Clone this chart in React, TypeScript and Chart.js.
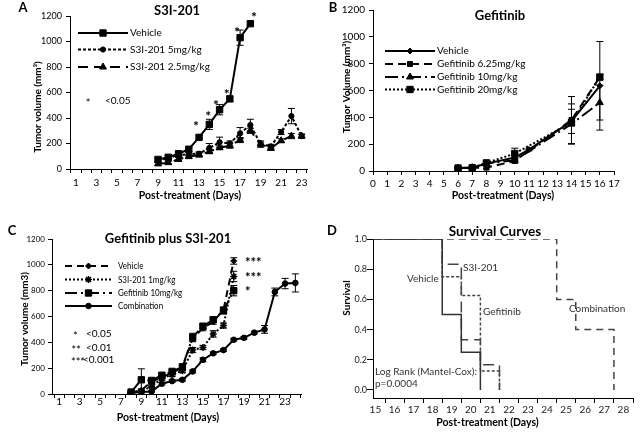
import React, { useEffect, useRef } from 'react';
import { Chart, registerables } from 'chart.js';

Chart.register(...registerables);

const FONT = 'Lato, "Open Sans", "DejaVu Sans", sans-serif';
const PW = 320;
const PH = 216;

// ===== Panel A: S3I-201 =====
const A_VEH_DAYS = [9, 10, 11, 12, 13, 14, 15, 16, 17, 18];
const A_VEH = [75, 92, 120, 155, 248, 350, 465, 550, 1030, 1140];
const A_VEH_ERR = [15, 15, 15, 15, 15, 40, 40, 20, 60, 15];
const A_S5_DAYS = [9, 10, 11, 12, 13, 14, 15, 16, 17, 18, 19, 20, 21, 22, 23];
const A_S5 = [70, 85, 110, 117, 120, 165, 210, 200, 280, 345, 195, 178, 290, 415, 258];
const A_S5_ERR = [15, 15, 15, 15, 15, 35, 40, 20, 45, 45, 25, 15, 20, 60, 15];
const A_S25_DAYS = [9, 10, 11, 12, 13, 14, 15, 16, 17, 18, 19, 20, 21, 22, 23];
const A_S25 = [40, 50, 76, 97, 110, 136, 167, 183, 227, 300, 196, 162, 222, 258, 258];
const A_S25_ERR = [10, 10, 15, 10, 15, 15, 15, 20, 20, 20, 15, 15, 15, 20, 15];
const A_SIG_DAYS = [12.7, 13.9, 14.65, 15.7, 16.7, 18.35];
const A_SIG_VALUES = [357, 441, 527, 611, 1100, 1218];
const A_X_LABELS = [1, 3, 5, 7, 9, 11, 13, 15, 17, 19, 21, 23];
const A_Y_TICKS = [0, 200, 400, 600, 800, 1000, 1200];

// ===== Panel B: Gefitinib =====
const B_VEH_DAYS = [6, 7, 8, 10, 11, 14, 16];
const B_VEH = [22, 25, 55, 100, 160, 370, 635];
const B_VEH_ERR = [5, 5, 15, 20, 10, 90, 330];
const B_G6_DAYS = [6, 7, 8, 10, 14, 16];
const B_G6 = [22, 25, 25, 75, 380, 700];
const B_G6_ERR = [5, 5, 10, 15, 175, 20];
const B_G10_DAYS = [6, 7, 8, 10, 14, 16];
const B_G10 = [22, 25, 55, 80, 350, 510];
const B_G10_ERR = [5, 5, 15, 15, 150, 130];
const B_G20_DAYS = [6, 7, 8, 10, 14, 16];
const B_G20 = [22, 25, 60, 130, 360, 700];
const B_G20_ERR = [5, 5, 20, 40, 20, 20];
const B_X_LABELS = [0, 1, 2, 3, 4, 5, 6, 7, 8, 9, 10, 11, 12, 13, 14, 15, 16, 17];
const B_Y_TICKS = [0, 200, 400, 600, 800, 1000, 1200];

// ===== Panel C: Gefitinib plus S3I-201 =====
const C_VEH_DAYS = [8, 9, 10, 11, 12, 13, 14, 15, 16, 17, 18];
const C_VEH = [10, 30, 95, 130, 165, 205, 430, 510, 560, 650, 1030];
const C_VEH_ERR = [5, 10, 15, 15, 15, 20, 25, 20, 20, 25, 25];
const C_S3I_DAYS = [8, 9, 10, 11, 12, 13, 14, 15, 16, 17, 18];
const C_S3I = [10, 20, 60, 120, 150, 180, 340, 360, 465, 530, 910];
const C_S3I_ERR = [5, 10, 10, 15, 15, 15, 20, 15, 25, 20, 40];
const C_GEF_DAYS = [8, 9, 10, 11, 12, 13, 14, 15, 16, 17, 18];
const C_GEF = [15, 110, 105, 145, 175, 210, 440, 525, 575, 645, 800];
const C_GEF_ERR = [5, 85, 15, 20, 15, 20, 30, 20, 20, 25, 40];
const C_COMB_DAYS = [8, 9, 10, 11, 12, 13, 14, 15, 16, 17, 18, 19, 20, 21, 22, 23, 24];
const C_COMB = [10, 15, 20, 80, 100, 110, 175, 265, 315, 340, 420, 435, 475, 500, 790, 855, 860];
const C_COMB_ERR = [5, 5, 5, 10, 10, 10, 10, 15, 10, 10, 10, 10, 10, 30, 30, 40, 70];
const C_SIG_DAYS = [19.1, 19.1, 19.1];
const C_SIG_VALUES = [1043, 927, 815];
const C_SIG_TEXT = ['***', '***', '*'];
const C_X_LABELS = [1, 3, 5, 7, 9, 11, 13, 15, 17, 19, 21, 23];
const C_Y_TICKS = [0, 200, 400, 600, 800, 1000, 1200];

// ===== Panel D: Survival curves =====
const D_VEH_DAYS = [0, 18, 19, 20];
const D_VEH = [1, 0.5, 0.25, 0];
const D_S3I_DAYS = [0, 18, 19, 20, 21];
const D_S3I = [1, 0.833, 0.333, 0.167, 0];
const D_GEF_DAYS = [0, 18, 19, 20, 21];
const D_GEF = [1, 0.75, 0.625, 0.125, 0];
const D_COMB_DAYS = [0, 24, 25, 27];
const D_COMB = [1, 0.6, 0.4, 0];
const D_X_LABELS = [15, 16, 17, 18, 19, 20, 21, 22, 23, 24, 25, 26, 27, 28];
const D_Y_TICKS = [0, 0.2, 0.4, 0.6, 0.8, 1.0];

// ---------- helpers ----------
type Area = { left: number; right: number; top: number; bottom: number };
type TextSpec = {
  text: string; x: number; y: number; size: number; bold?: boolean;
  align?: CanvasTextAlign; rot?: number; sx?: number; color?: string; star?: boolean;
};
type MarkSpec = { x: number; y: number; text: string; size: number; bold?: boolean; align?: CanvasTextAlign };
type LegendSpec = { x1: number; x2: number; textX: number; rows: number[]; size: number; sx?: number };
type Deco = { texts: TextSpec[]; marks?: MarkSpec[]; legend?: LegendSpec; cap?: number };
type AxisSpec = {
  min: number; max: number; ticks: number[]; label: (v: number) => string;
  fontSize: number; bold?: boolean; pad: number; tickLen: number;
  tickColor?: (v: number) => string; labelOffset?: number; color?: string;
};

function pts(days: number[], vals: number[]) {
  return days.map((d, i) => ({ x: d, y: vals[i] }));
}

function series(label: string, days: number[], vals: number[], errs: number[] | null, st: any) {
  return {
    label,
    data: pts(days, vals),
    errors: errs,
    borderColor: st.color ?? '#000',
    backgroundColor: st.color ?? '#000',
    borderWidth: st.width ?? 2,
    borderDash: st.dash ?? [],
    pointStyle: st.marker ?? 'circle',
    pointRadius: st.r ?? 0,
    pointBackgroundColor: st.color ?? '#000',
    pointBorderColor: st.color ?? '#000',
    pointBorderWidth: st.pbw ?? 1,
    fill: false,
    tension: 0,
    stepped: st.stepped ?? false,
    legendR: st.lr ?? st.r ?? 0,
  };
}

function drawText(ctx: CanvasRenderingContext2D, t: TextSpec) {
  ctx.save();
  ctx.font = `${t.bold ? 'bold ' : ''}${t.size}px ${FONT}`;
  ctx.fillStyle = t.color ?? '#000';
  ctx.textAlign = t.align ?? 'center';
  ctx.textBaseline = 'middle';
  ctx.translate(t.x, t.y + (t.star ? t.size * 0.25 : 0));
  if (t.rot) ctx.rotate(t.rot);
  if (t.sx) ctx.scale(t.sx, 1);
  ctx.fillText(t.text, 0, 0);
  ctx.restore();
}

function drawMarker(ctx: CanvasRenderingContext2D, style: string, x: number, y: number, r: number, lw: number) {
  if (!style || r <= 0) return;
  ctx.save();
  ctx.fillStyle = '#000';
  ctx.strokeStyle = '#000';
  ctx.lineWidth = lw;
  ctx.setLineDash([]);
  ctx.beginPath();
  if (style === 'rect') {
    const s = r * Math.SQRT1_2;
    ctx.rect(x - s, y - s, 2 * s, 2 * s);
    ctx.fill(); ctx.stroke();
  } else if (style === 'rectRot') {
    ctx.moveTo(x, y - r); ctx.lineTo(x + r, y); ctx.lineTo(x, y + r); ctx.lineTo(x - r, y);
    ctx.closePath(); ctx.fill(); ctx.stroke();
  } else if (style === 'triangle') {
    for (let k = 0; k < 3; k++) {
      const a = (k * 2 * Math.PI) / 3;
      const px = x + Math.sin(a) * r;
      const py = y - Math.cos(a) * r;
      if (k === 0) ctx.moveTo(px, py); else ctx.lineTo(px, py);
    }
    ctx.closePath(); ctx.fill(); ctx.stroke();
  } else if (style === 'circle') {
    ctx.arc(x, y, r, 0, Math.PI * 2);
    ctx.fill(); ctx.stroke();
  } else if (style === 'star') {
    ctx.moveTo(x, y - r); ctx.lineTo(x, y + r);
    ctx.moveTo(x - r, y); ctx.lineTo(x + r, y);
    const s = r * Math.SQRT1_2;
    ctx.moveTo(x - s, y - s); ctx.lineTo(x + s, y + s);
    ctx.moveTo(x - s, y + s); ctx.lineTo(x + s, y - s);
    ctx.stroke();
  }
  ctx.restore();
}

function decoPlugin(deco: Deco) {
  return {
    id: 'deco',
    afterDatasetsDraw(chart: any) {
      const ctx: CanvasRenderingContext2D = chart.ctx;
      const ys = chart.scales.y;
      const cap = deco.cap ?? 3.5;
      chart.data.datasets.forEach((ds: any, i: number) => {
        const errs: number[] | null = ds.errors;
        if (!errs) return;
        const meta = chart.getDatasetMeta(i);
        meta.data.forEach((pt: any, j: number) => {
          const e = errs[j];
          if (!e) return;
          const v = ds.data[j].y;
          const yt = ys.getPixelForValue(v + e);
          const yb = ys.getPixelForValue(Math.max(v - e, 0));
          ctx.save();
          ctx.strokeStyle = '#000';
          ctx.lineWidth = 1;
          ctx.setLineDash([]);
          ctx.beginPath();
          ctx.moveTo(pt.x, yt); ctx.lineTo(pt.x, yb);
          ctx.moveTo(pt.x - cap, yt); ctx.lineTo(pt.x + cap, yt);
          ctx.moveTo(pt.x - cap, yb); ctx.lineTo(pt.x + cap, yb);
          ctx.stroke();
          ctx.restore();
        });
      });
    },
    afterDraw(chart: any) {
      const ctx: CanvasRenderingContext2D = chart.ctx;
      const xs = chart.scales.x;
      const ys = chart.scales.y;
      deco.texts.forEach((t) => drawText(ctx, t));
      (deco.marks ?? []).forEach((m) => {
        drawText(ctx, {
          text: m.text, size: m.size, bold: m.bold, align: m.align ?? 'center', star: true,
          x: xs.getPixelForValue(m.x), y: ys.getPixelForValue(m.y),
        });
      });
      const lg = deco.legend;
      if (lg) {
        chart.data.datasets.forEach((ds: any, i: number) => {
          const y = lg.rows[i];
          if (y === undefined) return;
          ctx.save();
          ctx.strokeStyle = ds.borderColor;
          ctx.lineWidth = ds.borderWidth;
          ctx.setLineDash(ds.borderDash || []);
          ctx.beginPath();
          ctx.moveTo(lg.x1, y);
          ctx.lineTo(lg.x2, y);
          ctx.stroke();
          ctx.restore();
          drawMarker(ctx, ds.pointStyle, (lg.x1 + lg.x2) / 2, y, ds.legendR, ds.pointBorderWidth);
          drawText(ctx, { text: ds.label, x: lg.textX, y, size: lg.size, align: 'left', sx: lg.sx });
        });
      }
    },
  };
}

function axisOptions(s: AxisSpec, axis: 'x' | 'y', size: number) {
  return {
    type: 'linear',
    position: axis === 'x' ? 'bottom' : 'left',
    min: s.min,
    max: s.max,
    afterBuildTicks: (sc: any) => {
      sc.ticks = s.ticks.map((v) => ({ value: v }));
    },
    afterFit: (sc: any) => {
      if (axis === 'x') sc.height = size;
      else sc.width = size;
    },
    ticks: {
      autoSkip: false,
      maxRotation: 0,
      minRotation: 0,
      padding: s.pad,
      labelOffset: s.labelOffset ?? 0,
      color: s.color ?? '#000',
      font: { family: FONT, size: s.fontSize, weight: s.bold ? 'bold' : 'normal' },
      callback: (v: any) => s.label(Number(v)),
    },
    grid: {
      drawOnChartArea: false,
      drawTicks: true,
      tickLength: s.tickLen,
      color: '#000',
      lineWidth: 1,
      tickColor: (c: any) => (s.tickColor ? s.tickColor(c.tick ? c.tick.value : 0) : '#000'),
    },
    border: { display: true, color: '#000', width: 1 },
  };
}

function buildConfig(area: Area, datasets: any[], xs: AxisSpec, ys: AxisSpec, deco: Deco): any {
  return {
    type: 'line',
    data: { datasets },
    options: {
      responsive: false,
      animation: false,
      devicePixelRatio: 1,
      events: [],
      layout: { padding: { left: 0, top: area.top, right: PW - area.right, bottom: 0 } },
      plugins: { legend: { display: false }, tooltip: { enabled: false }, title: { display: false } },
      scales: {
        x: axisOptions(xs, 'x', PH - area.bottom),
        y: axisOptions(ys, 'y', area.left),
      },
    },
    plugins: [decoPlugin(deco)],
  };
}

// tick positions: every labelled day plus the category boundaries between days
function withBounds(labels: number[], last: number) {
  const out: number[] = [];
  labels.forEach((d) => out.push(d));
  for (let b = 0.5; b <= last; b += 1) out.push(b);
  return out;
}

const isHalf = (v: number) => Math.abs(v - Math.round(v)) > 0.25;
const ROT = -Math.PI / 2;

// ---------- panel configs ----------
function configA() {
  return buildConfig(
    { left: 70, right: 307, top: 16, bottom: 169 },
    [
      series('Vehicle', A_VEH_DAYS, A_VEH, A_VEH_ERR, { marker: 'rect', r: 4.5 }),
      series('S3I-201 5mg/kg', A_S5_DAYS, A_S5, A_S5_ERR, { dash: [3, 2], marker: 'circle', r: 2.6 }),
      series('S3I-201 2.5mg/kg', A_S25_DAYS, A_S25, A_S25_ERR, { dash: [10, 6], marker: 'triangle', r: 4 }),
    ],
    {
      min: 0.42, max: 23.52, ticks: withBounds(A_X_LABELS, 23.5),
      label: (v) => (A_X_LABELS.includes(v) ? String(v) : ''),
      fontSize: 10, pad: 4, tickLen: 4, tickColor: (v) => (isHalf(v) ? '#000' : 'rgba(0,0,0,0)'),
    },
    { min: 0, max: 1200, ticks: A_Y_TICKS, label: (v) => String(v), fontSize: 9, pad: 4, tickLen: 4 },
    {
      texts: [
        { text: 'A', x: 23, y: 8, size: 13, bold: true },
        { text: 'S3I-201', x: 177, y: 11, size: 13, bold: true },
        { text: 'Tumor volume (mm³)', x: 38, y: 107, size: 10, bold: true, rot: ROT },
        { text: 'Post-treatment (Days)', x: 190, y: 196, size: 10.5, bold: true },
        { text: '*', x: 88, y: 101, size: 11, star: true },
        { text: '<0.05', x: 105, y: 101, size: 10, align: 'left' },
      ],
      marks: A_SIG_DAYS.map((d, i) => ({ x: d, y: A_SIG_VALUES[i], text: '*', size: 14, bold: true })),
      legend: { x1: 78, x2: 128, textX: 130, rows: [33, 49.5, 67], size: 10 },
    }
  );
}

function configB() {
  return buildConfig(
    { left: 53, right: 294, top: 6, bottom: 171 },
    [
      series('Vehicle', B_VEH_DAYS, B_VEH, B_VEH_ERR, { marker: 'rectRot', r: 3 }),
      series('Gefitinib 6.25mg/kg', B_G6_DAYS, B_G6, B_G6_ERR, { dash: [8, 5], marker: 'rect', r: 3.5 }),
      series('Gefitinib 10mg/kg', B_G10_DAYS, B_G10, B_G10_ERR, { dash: [13, 4, 2, 4], marker: 'triangle', r: 4 }),
      series('Gefitinib 20mg/kg', B_G20_DAYS, B_G20, B_G20_ERR, { dash: [2, 2], marker: 'rect', r: 4.5 }),
    ],
    {
      min: 0, max: 17, ticks: B_X_LABELS, label: (v) => (B_X_LABELS.includes(v) ? String(v) : ''),
      fontSize: 10, pad: 3, tickLen: 4,
    },
    { min: 0, max: 1200, ticks: B_Y_TICKS, label: (v) => String(v), fontSize: 10, pad: 4, tickLen: 4 },
    {
      texts: [
        { text: 'B', x: 13, y: 8, size: 13, bold: true },
        { text: 'Gefitinib', x: 180, y: 16, size: 13, bold: true },
        { text: 'Tumor Volume (mm³)', x: 27, y: 87, size: 10, bold: true, rot: ROT },
        { text: 'Post-treatment (Days)', x: 183, y: 196, size: 10.5, bold: true },
      ],
      legend: { x1: 65, x2: 115, textX: 117, rows: [51, 64, 77, 89.5], size: 10 },
    }
  );
}

function configC() {
  return buildConfig(
    { left: 52, right: 301, top: 23, bottom: 178 },
    [
      series('Vehicle', C_VEH_DAYS, C_VEH, C_VEH_ERR, { dash: [7, 5], marker: 'rectRot', r: 3 }),
      series('S3I-201 1mg/kg', C_S3I_DAYS, C_S3I, C_S3I_ERR, { dash: [2, 2], marker: 'star', r: 3.5, pbw: 1.5 }),
      series('Gefitinib 10mg/kg', C_GEF_DAYS, C_GEF, C_GEF_ERR, { dash: [12, 4, 2, 4], marker: 'rect', r: 4.5 }),
      series('Combination', C_COMB_DAYS, C_COMB, C_COMB_ERR, { marker: 'circle', r: 2.8 }),
    ],
    {
      min: 0.3, max: 24.55, ticks: withBounds(C_X_LABELS, 24.5),
      label: (v) => (C_X_LABELS.includes(v) ? String(v) : ''),
      fontSize: 10, pad: -2, tickLen: 4, tickColor: (v) => (isHalf(v) ? '#000' : 'rgba(0,0,0,0)'),
    },
    { min: 0, max: 1200, ticks: C_Y_TICKS, label: (v) => String(v), fontSize: 8, pad: 3, tickLen: 4 },
    {
      texts: [
        { text: 'C', x: 12, y: 15, size: 13, bold: true },
        { text: 'Gefitinib plus S3I-201', x: 168, y: 23, size: 13, bold: true },
        { text: 'Tumor volume (mm3)', x: 25, y: 103, size: 10, bold: true, rot: ROT },
        { text: 'Post-treatment (Days)', x: 168, y: 202, size: 10.5, bold: true },
        { text: '*', x: 73, y: 118, size: 11, star: true, align: 'left' },
        { text: '<0.05', x: 86, y: 118, size: 10, align: 'left' },
        { text: '**', x: 71.5, y: 131.5, size: 11, star: true, align: 'left' },
        { text: '<0.01', x: 86, y: 131.5, size: 10, align: 'left' },
        { text: '***', x: 71, y: 144, size: 11, star: true, align: 'left' },
        { text: '<0.001', x: 83, y: 144, size: 10, align: 'left' },
      ],
      marks: C_SIG_DAYS.map((d, i) => ({ x: d, y: C_SIG_VALUES[i], text: C_SIG_TEXT[i], size: 13, bold: true, align: 'left' as CanvasTextAlign })),
      legend: { x1: 65, x2: 112, textX: 118, rows: [50, 63.5, 77, 90], size: 10, sx: 0.8 },
    }
  );
}

function configD() {
  const g = '#333';
  return buildConfig(
    { left: 53, right: 313, top: 23, bottom: 182 },
    [
      series('Vehicle', D_VEH_DAYS, D_VEH, null, { color: g, width: 1.5, stepped: true }),
      series('S3I-201', D_S3I_DAYS, D_S3I, null, { color: '#444', width: 1.5, dash: [11, 6], stepped: true }),
      series('Gefitinib', D_GEF_DAYS, D_GEF, null, { color: '#444', width: 1.5, dash: [3, 2], stepped: true }),
      series('Combination', D_COMB_DAYS, D_COMB, null, { color: '#444', width: 1.5, dash: [7, 5], stepped: true }),
    ],
    {
      min: 14.37, max: 28.0, ticks: D_X_LABELS, label: (v) => (D_X_LABELS.includes(v) ? String(v) : ''),
      fontSize: 10, pad: 1, tickLen: 5, labelOffset: -9.6, color: '#222',
    },
    { min: -0.053, max: 1.0, ticks: D_Y_TICKS, label: (v) => v.toFixed(1), fontSize: 9, pad: 0, tickLen: 6, color: '#222' },
    {
      texts: [
        { text: 'D', x: 12, y: 15, size: 13, bold: true },
        { text: 'Survival Curves', x: 175, y: 16, size: 13.5, bold: true },
        { text: 'Survival', x: 27, y: 82, size: 10, bold: true, rot: ROT },
        { text: 'Post-treatment (Days)', x: 167.5, y: 207, size: 10.5, bold: true },
        { text: 'S3I-201', x: 143, y: 52, size: 10, align: 'left', color: g },
        { text: 'Vehicle', x: 87, y: 63, size: 10, align: 'left', color: g },
        { text: 'Gefitinib', x: 163, y: 96, size: 10, align: 'left', color: g },
        { text: 'Combination', x: 249, y: 93, size: 10, align: 'left', color: g },
        { text: 'Log Rank (Mantel-Cox):', x: 55, y: 156, size: 10, align: 'left', color: g },
        { text: 'p=0.0004', x: 55, y: 168, size: 10, align: 'left', color: g },
      ],
    }
  );
}

function ChartPanel({ left, top, config }: { left: number; top: number; config: () => any }) {
  const ref = useRef<HTMLCanvasElement>(null);
  useEffect(() => {
    const chart = new Chart(ref.current as HTMLCanvasElement, config());
    return () => chart.destroy();
  }, []);
  return (
    <canvas
      ref={ref}
      width={PW}
      height={PH}
      style={{ position: 'absolute', left, top, width: PW, height: PH, display: 'block' }}
    />
  );
}

export default function App() {
  return (
    <div style={{ position: 'absolute', left: 0, top: 0, width: 640, height: 432, background: '#fff', overflow: 'hidden' }}>
      <ChartPanel left={0} top={0} config={configA} />
      <ChartPanel left={320} top={0} config={configB} />
      <ChartPanel left={0} top={216} config={configC} />
      <ChartPanel left={320} top={216} config={configD} />
    </div>
  );
}
